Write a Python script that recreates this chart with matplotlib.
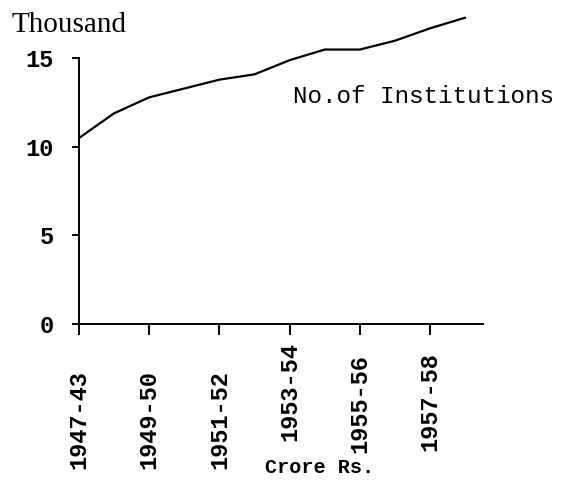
import numpy as np
import matplotlib
matplotlib.use('Agg')
import matplotlib.pyplot as plt
from matplotlib.transforms import ScaledTranslation

# Number of institutions (thousand), one value per year from 1947-48
years = ['1947-48', '1948-49', '1949-50', '1950-51', '1951-52', '1952-53',
         '1953-54', '1954-55', '1955-56', '1956-57', '1957-58', '1958-59']
institutions = [10.5, 11.9, 12.8, 13.3, 13.8, 14.1, 14.9, 15.5, 15.5, 16.0, 16.7, 17.3]

tick_labels = ['1947-43', '1949-50', '1951-52', '1953-54', '1955-56', '1957-58']
y_ticks = [0, 5, 10, 15]

font = {'family': 'Liberation Mono', 'color': 'black', 'size': 17}
tick_font = dict(font, weight='bold')

fig = plt.figure(figsize=(5.64, 4.8), dpi=100)
a = fig.add_axes([0.140, 0.325, 0.716, 0.664])

x = np.arange(len(institutions))
a.plot(x, institutions, color='black', lw=1.6, solid_capstyle='round')

a.set_xlim(0, 11.5)
a.set_ylim(0, 18)
for s in ['top', 'right']:
    a.spines[s].set_visible(False)
for s in ['left', 'bottom']:
    a.spines[s].set_linewidth(1.4)
a.spines['left'].set_bounds(0, 15)

a.set_yticks(y_ticks)
a.set_yticklabels([str(v) for v in y_ticks], fontdict=tick_font)
a.set_xticks(np.arange(0, 12, 2))
a.set_xticklabels(tick_labels, rotation=90, fontdict=tick_font)
a.tick_params(axis='y', length=5, width=1.4, pad=13)
a.tick_params(axis='x', length=8, width=1.4, pad=25)

# later year labels sit a little higher (pixels)
lift = [0, 0, 0, 28, 16, 18]
for lab, d in zip(a.get_xticklabels(), lift):
    lab.set_transform(lab.get_transform() +
                      ScaledTranslation(0, d / 100.0, fig.dpi_scale_trans))

fig.text(0.021, 0.948, 'Thousand', fontdict={'family': 'Liberation Serif',
                                             'size': 21, 'color': 'black'},
         va='center')
fig.text(0.52, 0.798, 'No.of Institutions', fontdict=dict(font, size=17.5),
         va='center')
fig.text(0.47, 0.026, 'Crore Rs.', fontdict=dict(font, size=14.5, weight='bold'),
         va='center')

fig.savefig('out.png', dpi=100, facecolor='white')
